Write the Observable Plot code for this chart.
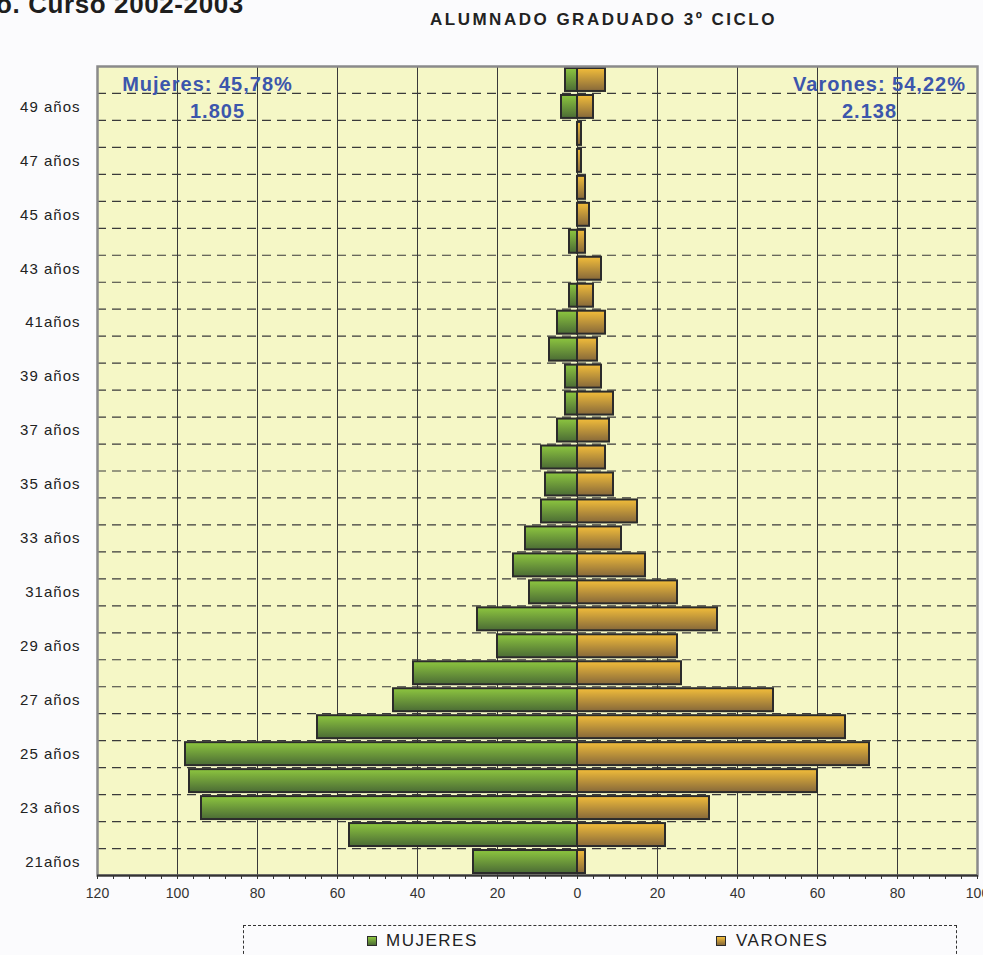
<!DOCTYPE html>
<html><head><meta charset="utf-8">
<script src="https://cdn.jsdelivr.net/npm/d3@7"></script>
<script src="https://cdn.jsdelivr.net/npm/@observablehq/plot@0.6"></script>
<style>
html,body{margin:0;padding:0;background:#fbfbfd;width:983px;height:955px;overflow:hidden;font-family:Arial,"Liberation Sans",sans-serif;}
#wrap{position:relative;width:983px;height:955px;overflow:hidden;}
#sup{position:absolute;left:-4px;top:-9px;font-size:26px;font-weight:bold;color:#1e1e1e;white-space:nowrap;line-height:26px;letter-spacing:0.6px;}
#title{position:absolute;left:430px;top:11px;font-size:17px;font-weight:bold;color:#222;letter-spacing:2.5px;white-space:nowrap;line-height:18px;}
#chart{position:absolute;left:0;top:40px;}
#legend{position:absolute;left:243px;top:925px;width:714px;height:60px;border:1px dashed #333;box-sizing:border-box;}
.sw{position:absolute;top:10px;width:8px;height:8px;border:1.5px solid #2b2b2b;}
.lt{position:absolute;top:5px;font-size:17px;color:#222;letter-spacing:1.5px;line-height:20px;white-space:nowrap;}
</style></head>
<body><div id="wrap">
<div id="sup">o. Curso 2002-2003</div>
<div id="title">ALUMNADO GRADUADO 3º CICLO</div>
<div id="chart"></div>
<div id="legend">
  <div class="sw" style="left:123px;background:linear-gradient(#8dc63f,#4b6b35)"></div>
  <div class="lt" style="left:142px">MUJERES</div>
  <div class="sw" style="left:472px;background:linear-gradient(#f2bd3a,#86683a)"></div>
  <div class="lt" style="left:492px">VARONES</div>
</div>
</div>
<script>
// Ages (categories), bottom to top
const ages = [21,22,23,24,25,26,27,28,29,30,31,32,33,34,35,36,37,38,39,40,41,42,43,44,45,46,47,48,49,50];
const mujeres = [26,57,94,97,98,65,46,41,20,25,12,16,13,9,8,9,5,3,3,7,5,2,0,2,0,0,0,0,4,3];
const varones = [2,22,33,60,73,67,49,26,25,35,25,17,11,15,9,7,8,9,6,5,7,4,6,2,3,2,1,1,4,7];
const ageTicks = [21,23,25,27,29,31,33,35,37,39,41,43,45,47,49];
const ageTickLabels = ["21años","23 años","25 años","27 años","29 años","31años","33 años","35 años","37 años","39 años","41años","43 años","45 años","47 años","49 años"];
const xTicks = [-120,-100,-80,-60,-40,-20,0,20,40,60,80,100];
const gridX = [-100,-80,-60,-40,-20,0,20,40,60,80];
const annotations = [
  {label: "Mujeres: 45,78%", x: -92.5, age: 50},
  {label: "1.805", x: -90, age: 49},
  {label: "Varones: 54,22%", x: 75.5, age: 50},
  {label: "2.138", x: 73, age: 49}
];

const women = ages.map((a, i) => ({age: a, v: mujeres[i]})).filter(d => d.v > 0);
const men = ages.map((a, i) => ({age: a, v: varones[i]})).filter(d => d.v > 0);
const boundaries = ages.slice(1).map(a => a - 0.5);
const minorTicks = d3.range(-120, 101, 4);
const labelOf = new Map(ageTicks.map((a, i) => [a, ageTickLabels[i]]));

const chart = Plot.plot({
  width: 983,
  height: 870,
  marginLeft: 97,
  marginRight: 6,
  marginTop: 26,
  marginBottom: 35,
  x: {domain: [-120, 100], label: null},
  y: {domain: [20.5, 50.5], label: null},
  style: {background: "transparent", fontFamily: "Arial, 'Liberation Sans', sans-serif", color: "#333"},
  marks: [
    Plot.frame({fill: "#f5f7c6", stroke: null}),
    Plot.ruleX(gridX, {stroke: "#3a3a3a", strokeWidth: 1}),
    Plot.ruleY(boundaries, {stroke: "#3a3a3a", strokeWidth: 1.2, strokeDasharray: "9,6"}),
    Plot.rectX(women, {x1: 0, x2: d => -d.v, y1: d => d.age - 0.5, y2: d => d.age + 0.5, insetTop: 2, insetBottom: 2, fill: "url(#gradW)", stroke: "#2b2b2b", strokeWidth: 2}),
    Plot.rectX(men, {x1: 0, x2: d => d.v, y1: d => d.age - 0.5, y2: d => d.age + 0.5, insetTop: 2, insetBottom: 2, fill: "url(#gradM)", stroke: "#2b2b2b", strokeWidth: 2}),
    Plot.frame({stroke: "#8a8a8a", strokeWidth: 2.5}),
    Plot.ruleY([20.5], {stroke: "#333", strokeWidth: 2}),
    Plot.axisX(minorTicks, {tickSize: 4, tickFormat: () => "", stroke: "#333", label: null}),
    Plot.axisX(xTicks, {tickSize: 0, tickPadding: 13, tickFormat: d => Math.abs(d), fontSize: 14, fill: "#333", label: null}),
    Plot.axisY(ageTicks, {tickSize: 0, tickPadding: 17, tickFormat: d => labelOf.get(d), fontSize: 15, fill: "#222", label: null}),
    Plot.text(annotations, {x: "x", y: "age", text: "label", dy: 5, fill: "#3c56ac", fontSize: 20, fontWeight: "bold"})
  ]
});

const svg = d3.select(chart.tagName.toLowerCase() === "svg" ? chart : chart.querySelector("svg"));
const defs = svg.insert("defs", ":first-child");
function grad(id, c1, c2) {
  const g = defs.append("linearGradient").attr("id", id).attr("x1", 0).attr("y1", 0).attr("x2", 0).attr("y2", 1);
  g.append("stop").attr("offset", "0%").attr("stop-color", c1);
  g.append("stop").attr("offset", "100%").attr("stop-color", c2);
}
grad("gradW", "#8dc63f", "#4b6b35");
grad("gradM", "#f2bd3a", "#86683a");
svg.selectAll('g[aria-label="text"] text').attr("letter-spacing", "1px");
svg.selectAll('g[aria-label="y-axis tick label"] text').attr("letter-spacing", "1px");
document.getElementById("chart").appendChild(chart);
</script>
</body></html>
